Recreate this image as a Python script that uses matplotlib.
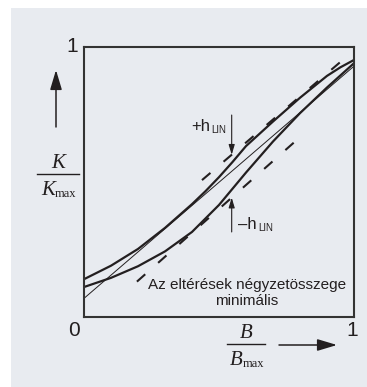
import matplotlib.pyplot as plt
from matplotlib.patches import Rectangle, FancyArrowPatch
import numpy as np

W, H = 367, 387
ink = '#231f20'
panel = '#e8ebf0'

# upper branch of the characteristic
x_up = [0.00, 0.10, 0.20, 0.30, 0.40, 0.45, 0.50, 0.55, 0.60, 0.70, 0.80, 0.90, 0.95, 1.00]
k_up = [0.140, 0.190, 0.252, 0.330, 0.418, 0.466, 0.518, 0.574, 0.633, 0.724, 0.812, 0.893, 0.925, 0.952]

# lower branch of the characteristic
x_down = [0.00, 0.10, 0.20, 0.30, 0.40, 0.50, 0.60, 0.70, 0.80, 0.90, 1.00]
k_down = [0.111, 0.145, 0.188, 0.243, 0.315, 0.415, 0.535, 0.650, 0.755, 0.850, 0.940]

# fitted straight line
x_fit = [0.0, 1.0]
k_fit = [0.069, 0.929]

# +h_LIN and -h_LIN envelope lines
x_plus = [0.437, 0.956]
k_plus = [0.507, 0.950]
x_minus = [0.196, 0.793]
k_minus = [0.131, 0.660]

x_h = 0.547


def fx(px):
    return px / W


def fy(py):
    return 1 - py / H


plt.rcParams['lines.scale_dashes'] = False

fig = plt.figure(figsize=(W / 100, H / 100), dpi=100, facecolor='white')
fig.patches.append(Rectangle((fx(11), 0), 1 - fx(11), fy(8), transform=fig.transFigure,
                             facecolor=panel, edgecolor='none', zorder=-10))

ax = fig.add_axes([fx(84), fy(317), 270 / W, 270 / H])
ax.set_facecolor(panel)
ax.set_xlim(0, 1)
ax.set_ylim(0, 1)
ax.set_xticks([])
ax.set_yticks([])
for s in ax.spines.values():
    s.set_linewidth(1.5)
    s.set_color('#333333')

ax.plot(x_up, k_up, color=ink, lw=1.6, solid_capstyle='round')
ax.plot(x_down, k_down, color=ink, lw=1.6, solid_capstyle='round')
ax.plot(x_fit, k_fit, color=ink, lw=0.7)
ax.plot(x_plus, k_plus, color=ink, lw=1.5, dashes=(8, 12.4))
ax.plot(x_minus, k_minus, color=ink, lw=1.5, dashes=(8, 12.4))

# arrows marking the deviation
tip_plus = np.interp(x_h, x_plus, k_plus)
tip_minus = np.interp(x_h, x_minus, k_minus)
small = dict(arrowstyle='-|>,head_length=0.6,head_width=0.18', mutation_scale=10,
             color=ink, lw=0.8, shrinkA=0, shrinkB=0)
ax.annotate('', xy=(x_h, tip_plus), xytext=(x_h, 0.748), arrowprops=small)
ax.annotate('', xy=(x_h, tip_minus), xytext=(x_h, 0.315), arrowprops=small)

sans = 'Liberation Sans'
serif = 'Liberation Serif'

fig.text(fx(210), fy(131), '+h', ha='right', va='baseline', fontsize=12, family=sans, color=ink)
fig.text(fx(211), fy(133), 'LIN', ha='left', va='baseline', fontsize=7, family=sans, color=ink)
fig.text(fx(257), fy(229), '\u2013h', ha='right', va='baseline', fontsize=12, family=sans, color=ink)
fig.text(fx(258), fy(231), 'LIN', ha='left', va='baseline', fontsize=7, family=sans, color=ink)

fig.text(fx(247), fy(293), 'Az eltérések négyzetösszege\nminimális', ha='center', va='center',
         fontsize=11, family=sans, color=ink, linespacing=1.2)

# axis numbers
fig.text(fx(78), fy(47), '1', ha='right', va='center', fontsize=15, family=sans, color=ink)
fig.text(fx(74), fy(330), '0', ha='center', va='center', fontsize=15, family=sans, color=ink)
fig.text(fx(352), fy(330), '1', ha='center', va='center', fontsize=15, family=sans, color=ink)

# y label K / Kmax with arrow
fig.text(fx(58), fy(168), 'K', ha='center', va='baseline', fontsize=15, family=serif,
         style='italic', color=ink)
fig.add_artist(plt.Line2D([fx(37), fx(79)], [fy(174), fy(174)], color=ink, lw=1.0))
fig.text(fx(55), fy(195), 'K', ha='right', va='baseline', fontsize=15, family=serif,
         style='italic', color=ink)
fig.text(fx(55), fy(197), 'max', ha='left', va='baseline', fontsize=9, family=serif, color=ink)

big = dict(arrowstyle='-|>,head_length=0.6,head_width=0.18', mutation_scale=20,
           color=ink, lw=1.1, shrinkA=0, shrinkB=0)
fig.add_artist(FancyArrowPatch((fx(56), fy(127)), (fx(56), fy(70)),
                               transform=fig.transFigure, **big))

# x label B / Bmax with arrow
fig.text(fx(246), fy(338), 'B', ha='center', va='baseline', fontsize=15, family=serif,
         style='italic', color=ink)
fig.add_artist(plt.Line2D([fx(227), fx(265)], [fy(344), fy(344)], color=ink, lw=1.0))
fig.text(fx(243), fy(365), 'B', ha='right', va='baseline', fontsize=15, family=serif,
         style='italic', color=ink)
fig.text(fx(243), fy(367), 'max', ha='left', va='baseline', fontsize=9, family=serif, color=ink)
fig.add_artist(FancyArrowPatch((fx(279), fy(345)), (fx(337), fy(345)),
                               transform=fig.transFigure, **big))

fig.savefig('out.png', dpi=100)
